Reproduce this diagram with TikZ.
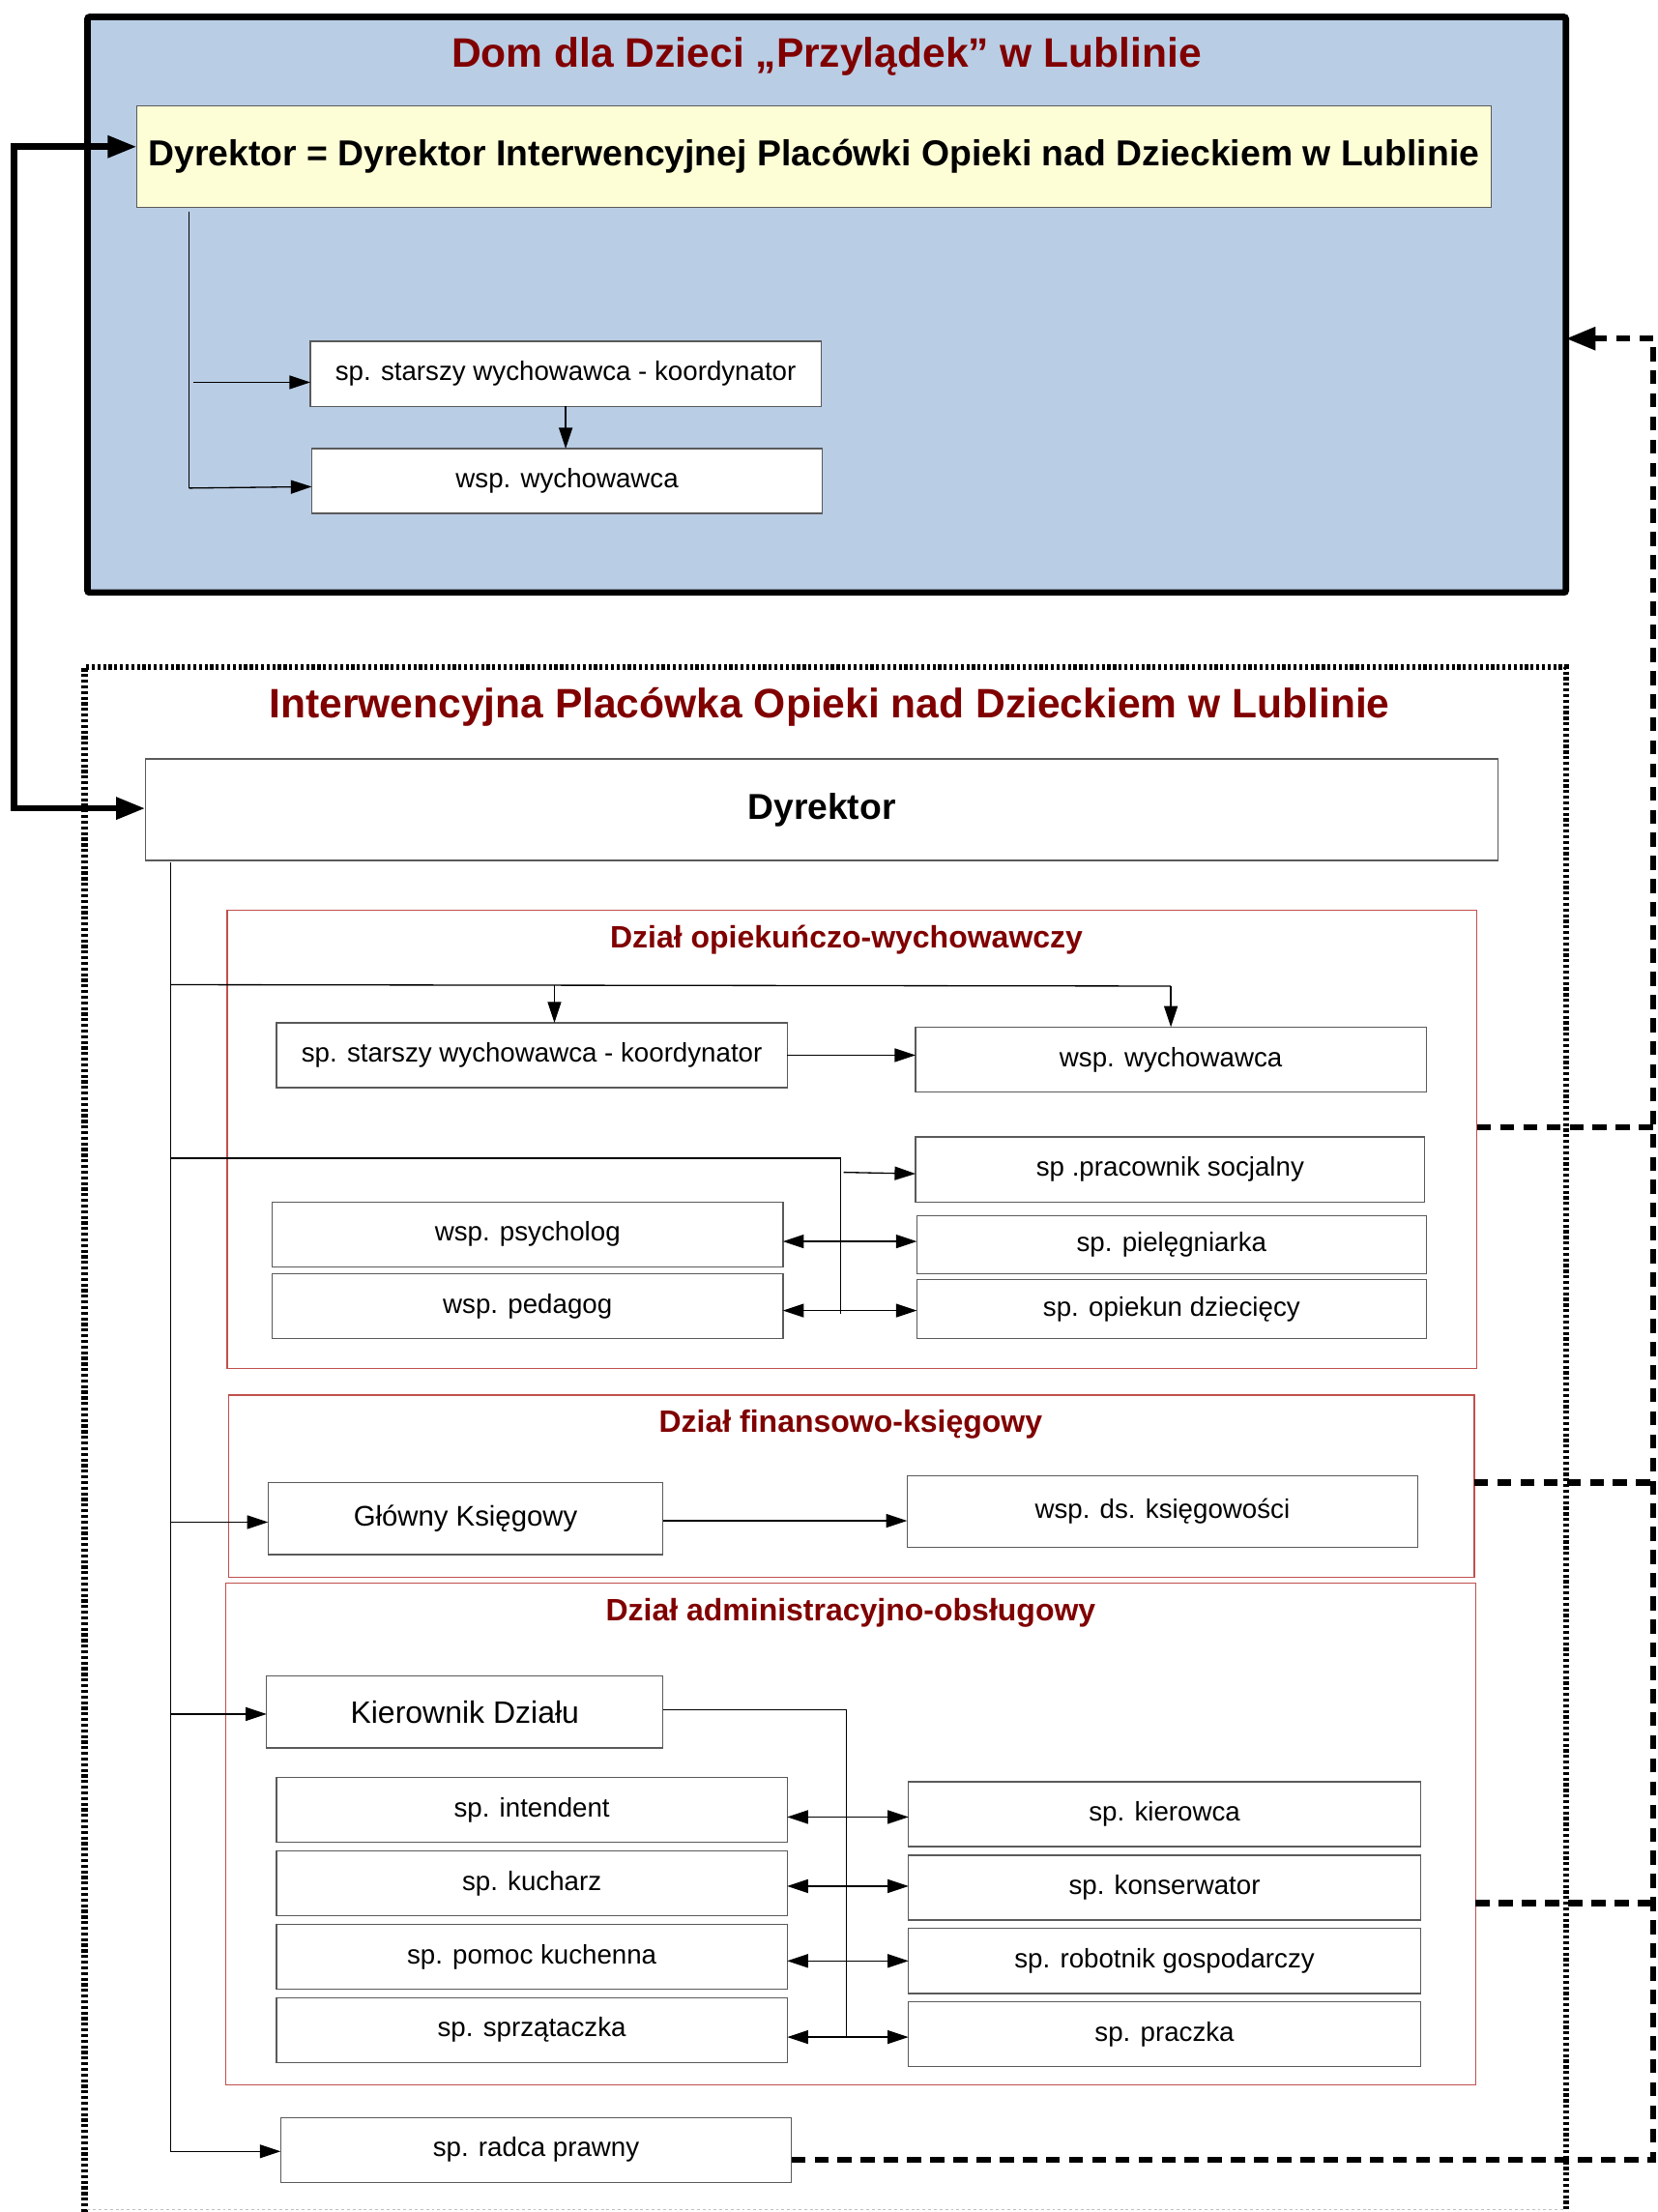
\documentclass[tikz,border=0pt]{standalone}
\usepackage{fontspec}
\setmainfont{Liberation Sans}
\usetikzlibrary{arrows.meta}
\definecolor{titlered}{HTML}{800000}
\definecolor{boxblue}{HTML}{B9CDE5}
\definecolor{boxyellow}{HTML}{FEFED6}
\definecolor{dzred}{HTML}{C0504D}
\definecolor{bordergray}{HTML}{5A5A5A}
\newcommand{\ftitle}{\fontsize{41.5}{48}\selectfont\bfseries}
\newcommand{\fyel}{\fontsize{36.4}{42}\selectfont\bfseries}
\newcommand{\fdyr}{\fontsize{36.3}{42}\selectfont\bfseries}
\newcommand{\fdz}{\fontsize{31.2}{36}\selectfont\bfseries}
\newcommand{\fnorm}{\fontsize{27}{32}\selectfont}
\newcommand{\fmid}{\fontsize{28.6}{34}\selectfont}
\newcommand{\fkier}{\fontsize{31.2}{36}\selectfont}
% box from (x1,y1) to (x2,y2): [options]{x1}{y1}{x2}{y2}{name}{text}
\newcommand{\bx}[7][]{\node[box,#1,minimum width={(#4-#2)*0.5mm},minimum height={(#5-#3)*0.5mm}] (#6) at ({(#2+#4)/2},{(#3+#5)/2}) {#7};}
\begin{document}
\begin{tikzpicture}[x=0.5mm,y=-0.5mm,
  box/.style={draw=bordergray, line width=0.45mm, fill=white, inner sep=0pt, outer sep=0pt, align=center, font=\fnorm},
  dzbox/.style={draw=dzred, line width=0.45mm, fill=none},
  dztitle/.style={font=\fdz, text=titlered},
  bigtitle/.style={font=\ftitle, text=titlered},
  conn/.style={line width=0.45mm, draw=black},
  arr/.style={-{Triangle[length=7.4mm,width=4.8mm]}},
  darr/.style={{Triangle[length=7.4mm,width=4.8mm]}-{Triangle[length=7.4mm,width=4.8mm]}},
  thickconn/.style={line width=2.3mm, draw=black},
  thickdarr/.style={{Triangle[length=10.3mm,width=7.4mm]}-{Triangle[length=10.3mm,width=7.4mm]}},
  dashconn/.style={line width=2.2mm, draw=black, dash pattern=on 5mm off 3.2mm},
  dashtip/.style={-{Triangle[length=10.5mm,width=7.8mm]}},
  dotborder/.style={line width=2.2mm, draw=black, dash pattern=on 1.1mm off 0.9mm}
]
\useasboundingbox (0,0) rectangle (1175,1568);
\fill[white] (0,0) rectangle (1175,1568);

% ---------- Dom dla Dzieci ----------
\bx[draw=black, line width=2.3mm, fill=boxblue, rounded corners=0.8mm]{62}{12}{1110}{420}{dom}{}
\node[bigtitle] (domtitle) at (586,40) {Dom dla Dzieci „Przylądek” w Lublinie};
\bx[fill=boxyellow, font=\fyel]{97}{75}{1057}{147}{dyr1}{\raisebox{-0.5mm}{Dyrektor = Dyrektor Interwencyjnej Placówki Opieki nad Dzieckiem w Lublinie}}
\bx{220}{242}{582}{288}{a1}{sp. starszy wychowawca - koordynator}
\bx{221}{318}{583}{364}{a2}{wsp. wychowawca}
\coordinate (dt) at (134,150);
\coordinate (db) at (134,346);
\draw[conn] (dt) -- (db);
\draw[conn,arr] (137,271) -- (a1.west |- 0,271);
\draw[conn,arr] (db) -- (a2.west |- 0,345);
\draw[conn,arr] (a1.south) -- (a1.south |- a2.north);

% ---------- Interwencyjna ----------
\draw[dotborder] (60,1568) -- (60,473) -- (1110,473) -- (1110,1568);
\draw[black!25, line width=0.3mm, dash pattern=on 1mm off 1mm] (62,1566) -- (1108,1566);
\node[bigtitle] (ipotitle) at (588,501) {Interwencyjna Placówka Opieki nad Dzieckiem w Lublinie};
\bx[font=\fdyr]{103}{538}{1062}{610}{dyr2}{\raisebox{-0.8mm}{Dyrektor}}

% thick link between the two directors
\coordinate (l1) at (10,104);
\coordinate (l2) at (10,573);
\draw[thickconn, thickdarr] (dyr1.west |- l1) -- (l1) -- (l2) -- (dyr2.west |- l2);

% main vertical line
\coordinate (v0) at (121,611);
\coordinate (v1) at (121,1525);

% Dzial opiekunczo-wychowawczy
\bx[dzbox]{161}{645}{1047}{970}{dzo}{}
\node[dztitle] (dzotitle) at (600,666) {Dział opiekuńczo-wychowawczy};
\bx{196}{725}{558}{771}{b1}{sp. starszy wychowawca - koordynator}
\bx{649}{728}{1011}{774}{b2}{wsp. wychowawca}
\bx{649}{806}{1010}{852}{c1}{sp .pracownik socjalny}
\bx{650}{862}{1011}{903}{c2}{sp. pielęgniarka}
\bx{650}{907}{1011}{949}{c3}{sp. opiekun dziecięcy}
\bx{193}{852}{555}{898}{d1}{wsp. psycholog}
\bx{193}{903}{555}{949}{d2}{wsp. pedagog}

\draw[conn] (v0 |- 0,698) -- (b2.north |- 0,699);
\draw[conn,arr] (393,698) -- (393,0 |- b1.north);
\draw[conn,arr] (b2.north |- 0,699) -- (b2.north);
\draw[conn,arr] (b1.east) -- (b2.west |- b1.east);
\coordinate (h2b) at (596,821);
\coordinate (h2c) at (596,931);
\draw[conn] (v0 |- h2b) -- (h2b) -- (h2c);
\draw[conn,arr] (598,831) -- (c1.west |- 0,832);
\draw[conn,darr] (d1.east |- 0,880) -- (c2.west |- 0,880);
\draw[conn,darr] (d2.east |- 0,929) -- (c3.west |- 0,929);

% Dzial finansowo-ksiegowy
\bx[dzbox]{162}{989}{1045}{1118}{dzf}{}
\node[dztitle] (dzftitle) at (603,1010) {Dział finansowo-księgowy};
\bx[font=\fmid]{190}{1051}{470}{1102}{e1}{Główny Księgowy}
\bx{643}{1046}{1005}{1097}{e2}{wsp. ds. księgowości}
\draw[conn,arr] (v0 |- 0,1079) -- (e1.west |- 0,1079);
\draw[conn,arr] (e1.east |- 0,1078) -- (e2.west |- 0,1078);

% Dzial administracyjno-obslugowy
\bx[dzbox]{160}{1122}{1046}{1478}{dza}{}
\node[dztitle] (dzatitle) at (603,1143) {Dział administracyjno-obsługowy};
\bx[font=\fkier]{189}{1188}{470}{1239}{f}{Kierownik Działu}
\bx{196}{1260}{558}{1306}{g1}{sp. intendent}
\bx{196}{1312}{558}{1358}{g2}{sp. kucharz}
\bx{196}{1364}{558}{1410}{g3}{sp. pomoc kuchenna}
\bx{196}{1416}{558}{1462}{g4}{sp. sprzątaczka}
\bx{644}{1263}{1007}{1309}{h1}{sp. kierowca}
\bx{644}{1315}{1007}{1361}{h2}{sp. konserwator}
\bx{644}{1367}{1007}{1413}{h3}{sp. robotnik gospodarczy}
\bx{644}{1419}{1007}{1465}{h4}{sp. praczka}
\draw[conn,arr] (v0 |- 0,1215) -- (f.west |- 0,1215);
\coordinate (k1) at (600,1212);
\coordinate (k2) at (600,1444);
\draw[conn] (f.east |- k1) -- (k1) -- (k2);
\draw[conn,darr] (g1.east |- 0,1288) -- (h1.west |- 0,1288);
\draw[conn,darr] (g2.east |- 0,1337) -- (h2.west |- 0,1337);
\draw[conn,darr] (g3.east |- 0,1390) -- (h3.west |- 0,1390);
\draw[conn,darr] (g4.east |- 0,1444) -- (h4.west |- 0,1444);

% radca prawny
\bx{199}{1501}{561}{1547}{radca}{sp. radca prawny}
\draw[conn,arr] (v0) -- (v1) -- (radca.west |- v1);

% dashed link back to Dom dla Dzieci
\coordinate (r1) at (1172,240);
\coordinate (r2) at (1172,1531);
\draw[dashconn] (radca.east |- r2) -- (r2) -- (r1);
\draw[dashconn, dashtip] (r1) -- (dom.east |- r1);
\draw[dashconn] (dzo.east |- 0,799) -- (r1 |- 0,799);
\draw[dashconn] (dzf.east |- 0,1051) -- (r1 |- 0,1051);
\draw[dashconn] (dza.east |- 0,1349) -- (r1 |- 0,1349);
\end{tikzpicture}
\end{document}
